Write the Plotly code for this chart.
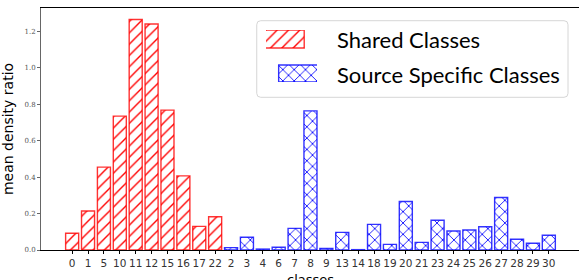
import plotly.graph_objects as go

shared_classes = ["0", "1", "5", "10", "11", "12", "15", "16", "17", "22"]
shared_values = [0.092, 0.214, 0.455, 0.735, 1.266, 1.241, 0.768, 0.407, 0.130, 0.183]

source_classes = ["2", "3", "4", "6", "7", "8", "9", "13", "14", "18", "19", "20",
                  "21", "23", "24", "25", "26", "27", "28", "29", "30"]
source_values = [0.013, 0.070, 0.005, 0.015, 0.119, 0.764, 0.009, 0.097, 0.002, 0.141,
                 0.031, 0.266, 0.042, 0.163, 0.104, 0.110, 0.128, 0.288, 0.059, 0.037, 0.081]

legend_labels = ["Shared Classes", "Source Specific Classes"]
y_ticks = [0.0, 0.2, 0.4, 0.6, 0.8, 1.0, 1.2]

all_classes = shared_classes + source_classes
n_shared = len(shared_classes)

red_marker = dict(color="white", line=dict(color="rgba(255,0,0,0.8)", width=1.4),
                  pattern=dict(shape="/", fgcolor="red", bgcolor="white", size=8,
                               solidity=0.17, fgopacity=1))
blue_marker = dict(color="white", line=dict(color="rgba(0,0,255,0.8)", width=1.4),
                   pattern=dict(shape="x", fgcolor="blue", bgcolor="white", size=8,
                                solidity=0.2, fgopacity=1))

fig = go.Figure()
fig.add_trace(go.Bar(
    x=list(range(n_shared)), y=shared_values, width=0.82,
    marker=red_marker, showlegend=False, name=legend_labels[0]))
fig.add_trace(go.Bar(
    x=list(range(n_shared, len(all_classes))), y=source_values, width=0.82,
    marker=blue_marker, showlegend=False, name=legend_labels[1]))

# legend patches on an inset axis
fig.add_trace(go.Bar(
    x=[0.5], y=[0.346], base=[0.654], width=1, xaxis="x2", yaxis="y2",
    marker=red_marker, showlegend=False, hoverinfo="skip"))
fig.add_trace(go.Bar(
    x=[0.5], y=[0.327], base=[0.0], width=1, xaxis="x2", yaxis="y2",
    marker=blue_marker, showlegend=False, hoverinfo="skip"))

# legend frame (rounded)
x0, x1, y0, y1 = 0.401, 0.9796, 0.631, 0.9475
rx, ry = 0.0074, 0.0165
path = (f"M{x0+rx},{y0} L{x1-rx},{y0} Q{x1},{y0} {x1},{y0+ry} L{x1},{y1-ry} "
        f"Q{x1},{y1} {x1-rx},{y1} L{x0+rx},{y1} Q{x0},{y1} {x0},{y1-ry} "
        f"L{x0},{y0+ry} Q{x0},{y0} {x0+rx},{y0} Z")
fig.add_shape(type="path", path=path, xref="paper", yref="paper",
              line=dict(color="#d6d6d6", width=1), fillcolor="rgba(255,255,255,0.8)",
              layer="below")

for lab, yy in zip(legend_labels, [0.868, 0.727]):
    fig.add_annotation(text=lab, x=0.548, y=yy, xref="paper", yref="paper",
                       xanchor="left", yanchor="middle", showarrow=False, borderpad=0,
                       font=dict(family="Lato", size=22, color="black"))

# x-axis title placed below tick labels
fig.add_annotation(text="classes", x=0.5, y=-0.088, xref="paper", yref="paper",
                   xanchor="center", yanchor="top", showarrow=False, borderpad=0,
                   font=dict(family="DejaVu Sans", size=13, color="black"))

fig.update_layout(
    width=579, height=280,
    margin=dict(l=41, r=0, t=8, b=30, autoexpand=False),
    plot_bgcolor="white", paper_bgcolor="white",
    bargap=0,
    xaxis=dict(range=[-1.96, 31.9], tickmode="array", automargin=False,
               tickvals=list(range(len(all_classes))), ticktext=all_classes,
               showgrid=False, zeroline=False, showline=True, linecolor="black",
               linewidth=1, mirror=True, ticks="outside", ticklen=3, tickcolor="black",
               tickfont=dict(family="DejaVu Sans", size=10.5, color="#333")),
    yaxis=dict(range=[0, 1.329], tickmode="array", tickvals=y_ticks, automargin=False,
               ticktext=[f"{v:.1f}" for v in y_ticks],
               showgrid=False, zeroline=False, showline=True, linecolor="#666",
               linewidth=1, ticks="outside", ticklen=3, tickcolor="#666",
               tickfont=dict(family="DejaVu Serif", size=7, color="#555"),
               title=dict(text="mean density ratio",
                          font=dict(family="DejaVu Sans", size=14, color="black"),
                          standoff=8)),
    xaxis2=dict(domain=[0.418, 0.513], range=[0, 1], anchor="y2", visible=False),
    yaxis2=dict(domain=[0.694, 0.909], range=[0, 1], anchor="x2", visible=False),
)

fig.write_html("out.html", config={"displayModeBar": False, "staticPlot": True},
               post_script="document.body.style.margin='0';document.body.style.overflow='hidden';")
